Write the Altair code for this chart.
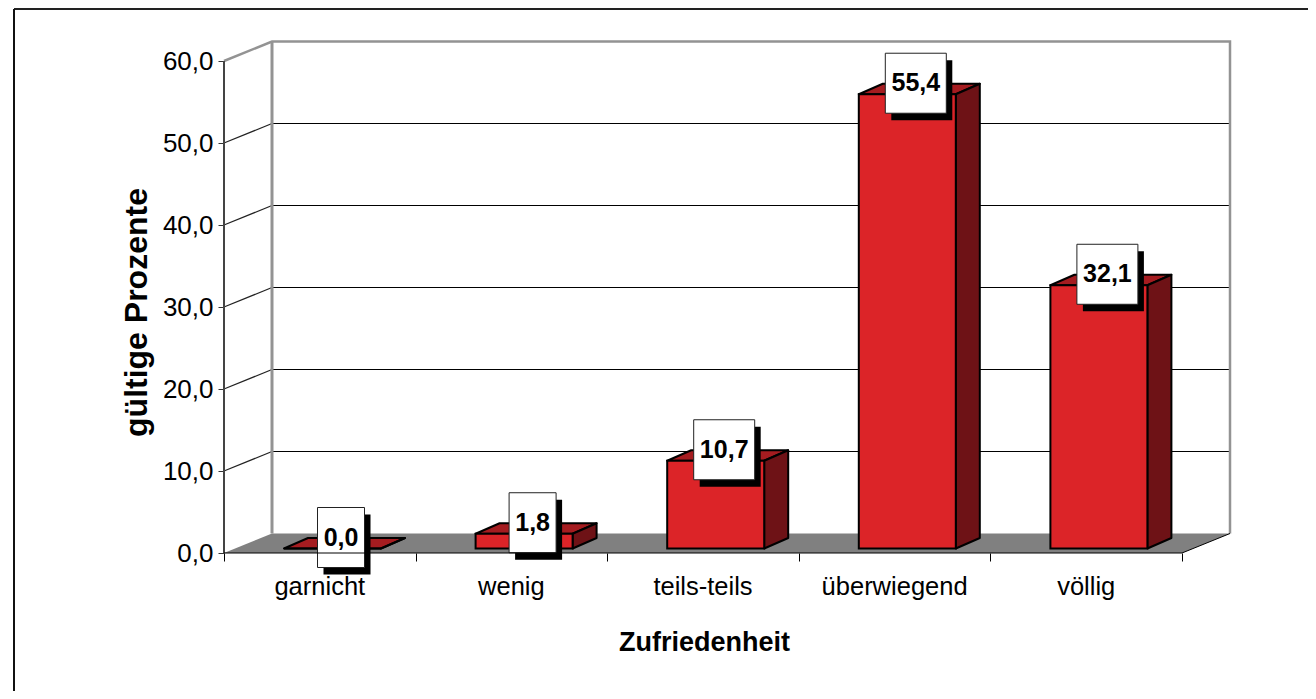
import altair as alt
import pandas as pd

categories = ["garnicht", "wenig", "teils-teils", "überwiegend", "völlig"]
values = [0.0, 1.8, 10.7, 55.4, 32.1]
value_labels = ["0,0", "1,8", "10,7", "55,4", "32,1"]
y_ticks = [0, 10, 20, 30, 40, 50, 60]
box_widths_px = [47, 47, 61, 61, 61]

FONT = "Liberation Sans"
PX_X = 191.6   # px per category
PX_Y = 8.2     # px per percent
DX = 48 / PX_X
DY = 19.5 / PX_Y
BAR_L = 60 / PX_X
BAR_W = 97 / PX_X
BAR_DX = 24 / PX_X
BAR_DY = 10.5 / PX_Y
BASE = 4.5 / PX_Y

xs = alt.Scale(domain=[0, 1008 / PX_X], nice=False, zero=False)
ys = alt.Scale(domain=[0, 511 / PX_Y], nice=False, zero=False)


def slab(key, left, right, y0, dx, dy):
    """Top-like parallelogram as an area."""
    return [
        dict(k=key, x=left, y=y0, y2=y0),
        dict(k=key, x=left + dx, y=y0 + dy, y2=y0),
        dict(k=key, x=right, y=y0 + dy, y2=y0),
        dict(k=key, x=right + dx, y=y0 + dy, y2=y0 + dy),
    ]


# floor
floor_df = pd.DataFrame(slab("floor", 0, 5, 0, DX, DY))
floor = alt.Chart(floor_df).mark_area(color="#808080").encode(y2="y2:Q")

# walls and grid
grid_df = pd.DataFrame({"x": [DX] * 5, "x2": [5 + DX] * 5, "y": [v + DY for v in y_ticks[1:-1]]})
grid = alt.Chart(grid_df).mark_rule(color="#000000", strokeWidth=1).encode(x2="x2:Q")

slants = []
for v in y_ticks[1:-1]:
    slants += [dict(k=v, x=0, y=v), dict(k=v, x=DX, y=v + DY)]
slant = alt.Chart(pd.DataFrame(slants)).mark_line(color="#222222", strokeWidth=1.2).encode(detail="k:N")

gray_df = pd.DataFrame([
    dict(k="a", x=0, y=60), dict(k="a", x=DX, y=60 + DY),
    dict(k="a", x=5 + DX, y=60 + DY), dict(k="a", x=5 + DX, y=DY),
])
gray_top = alt.Chart(gray_df).mark_line(color="#939393", strokeWidth=2.5).encode(
    detail="k:N", order=alt.Order("y2o:Q")).transform_window(y2o="row_number()")
back_df = pd.DataFrame({"x": [DX], "y": [DY], "y2": [60 + DY]})
back = alt.Chart(back_df).mark_rule(color="#939393", strokeWidth=3).encode(y2="y2:Q")

yaxis_df = pd.DataFrame({"x": [0], "y": [0], "y2": [60]})
yaxis = alt.Chart(yaxis_df).mark_rule(color="#444444", strokeWidth=2).encode(y2="y2:Q")

edge_df = pd.DataFrame([dict(k="e", x=5, y=0), dict(k="e", x=5 + DX, y=DY)])
edge = alt.Chart(edge_df).mark_line(color="#000000", strokeWidth=1).encode(detail="k:N")

# bars
front, side, top = [], [], []
shadow, box, text = [], [], []
for i, (c, v, t, bw) in enumerate(zip(categories, values, value_labels, box_widths_px)):
    left = i + BAR_L
    right = left + BAR_W
    h = BASE + v
    front.append(dict(x=left, x2=right, y=BASE, y2=h))
    side += [dict(k=c, x=right, y=BASE, y2=h), dict(k=c, x=right + BAR_DX, y=BASE + BAR_DY, y2=h + BAR_DY)]
    top += slab(c, left, right, h, BAR_DX, BAR_DY)
    cx = left + BAR_W / 2 + 8.5 / PX_X
    cy = h + 11 / PX_Y
    hw = bw / 2 / PX_X
    hh = 30 / PX_Y
    box.append(dict(x=cx - hw, x2=cx + hw, y=cy - hh, y2=cy + hh))
    sx, sy = 6 / PX_X, 7 / PX_Y
    shadow.append(dict(x=cx - hw + sx, x2=cx + hw + sx, y=cy - hh - sy, y2=cy + hh - sy))
    text.append(dict(x=cx, y=cy, t=t))

top_layer = alt.Chart(pd.DataFrame(top)).mark_area(
    color="#A51C20", stroke="#000000", strokeWidth=2, strokeJoin="round"
).encode(y2="y2:Q", detail="k:N")
side_layer = alt.Chart(pd.DataFrame(side)).mark_area(
    color="#6E1216", stroke="#000000", strokeWidth=2, strokeJoin="round"
).encode(y2="y2:Q", detail="k:N")
front_layer = alt.Chart(pd.DataFrame(front)).mark_rect(
    color="#DC2428", stroke="#000000", strokeWidth=2
).encode(x2="x2:Q", y2="y2:Q")

shadow_layer = alt.Chart(pd.DataFrame(shadow)).mark_rect(color="#000000").encode(x2="x2:Q", y2="y2:Q")
box_layer = alt.Chart(pd.DataFrame(box)).mark_rect(
    color="#FFFFFF", stroke="#222222", strokeWidth=1
).encode(x2="x2:Q", y2="y2:Q")

xline_df = pd.DataFrame({"x": [0], "x2": [5], "y": [0]})
xline = alt.Chart(xline_df).mark_rule(color="#000000", strokeWidth=1).encode(x2="x2:Q")

label_layer = alt.Chart(pd.DataFrame(text)).mark_text(
    font=FONT, fontSize=25, fontWeight="bold", color="#000000", baseline="middle", align="center"
).encode(text="t:N")

cat_df = pd.DataFrame({"x": [i + 0.5 for i in range(5)], "y": [0] * 5, "c": categories})
cat_layer = alt.Chart(cat_df).mark_text(
    font=FONT, fontSize=25.5, color="#000000", baseline="middle", align="center", dy=34
).encode(text="c:N")

# outer frame (runs off the right and bottom of the picture)
frame_top = alt.Chart(pd.DataFrame({"a": [0]})).mark_rule(color="#222222", strokeWidth=2).encode(
    x=alt.value(-210), x2=alt.value(1084), y=alt.value(-33))
frame_left = alt.Chart(pd.DataFrame({"a": [0]})).mark_rule(color="#111111", strokeWidth=2).encode(
    x=alt.value(-210), y=alt.value(-33), y2=alt.value(649))

chart = alt.layer(
    floor, grid, slant, gray_top, back, yaxis, edge,
    top_layer, side_layer, front_layer,
    shadow_layer, box_layer, xline, label_layer, cat_layer,
    frame_top, frame_left,
).encode(
    x=alt.X("x:Q", scale=xs, title="Zufriedenheit",
            axis=alt.Axis(values=[0, 1, 2, 3, 4, 5], labels=False, domain=False, grid=False,
                          tickColor="#000000", tickSize=8, tickWidth=1,
                          titleFont=FONT, titleFontSize=27, titleFontWeight="bold", titleColor="#000000",
                          titleX=480, titleY=89, titleBaseline="middle", titleAlign="center")),
    y=alt.Y("y:Q", scale=ys, title="gültige Prozente",
            axis=alt.Axis(values=y_ticks, domain=False, grid=False,
                          labelExpr="replace(format(datum.value,'.1f'),'.',',')",
                          labelFont=FONT, labelFontSize=26, labelColor="#000000", labelPadding=5,
                          tickColor="#333333", tickSize=6, tickWidth=1,
                          titleFont=FONT, titleFontSize=32, titleFontWeight="bold", titleColor="#000000",
                          titleX=-88, titleY=270, titleAlign="center", titleBaseline="middle")),
).properties(
    width=1008,
    height=511,
    padding={"left": 216, "top": 34, "right": 76, "bottom": 138},
    autosize=alt.AutoSizeParams(type="none"),
    background="#FFFFFF",
).configure_view(stroke=None)

chart.save("out.html", embed_options={"renderer": "svg", "actions": False})
